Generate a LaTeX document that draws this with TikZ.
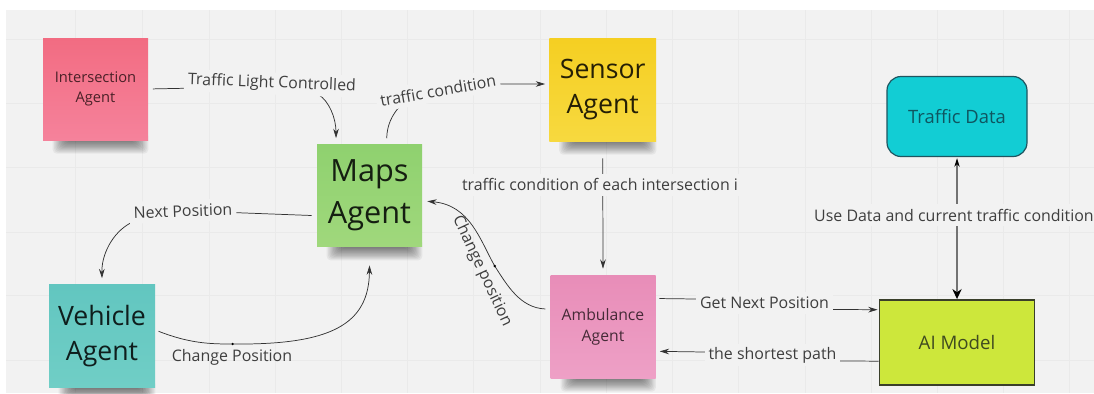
\documentclass[tikz,border=0pt]{standalone}
\usepackage{fontspec}
\setmainfont{Open Sans}
\usetikzlibrary{arrows.meta}
\definecolor{bgc}{HTML}{F2F2F2}
\definecolor{gridc}{HTML}{EAEAEA}
\definecolor{linec}{HTML}{333333}
\definecolor{labelc}{HTML}{3E3E3E}
\definecolor{intA}{HTML}{F26C82}\definecolor{intB}{HTML}{F5829B}
\definecolor{mapA}{HTML}{8FD16F}\definecolor{mapB}{HTML}{A0D87C}
\definecolor{vehA}{HTML}{62C6C0}\definecolor{vehB}{HTML}{70CEC6}
\definecolor{senA}{HTML}{F5CF22}\definecolor{senB}{HTML}{F7D93F}
\definecolor{ambA}{HTML}{E88DB8}\definecolor{ambB}{HTML}{EEA0C6}
\definecolor{datF}{HTML}{12CDD4}\definecolor{datD}{HTML}{1F5560}\definecolor{datT}{HTML}{0F5560}
\definecolor{aiF}{HTML}{CDE73B}\definecolor{aiD}{HTML}{3A3F2A}\definecolor{aiT}{HTML}{3F4A20}
\newcommand{\fs}[2]{\fontsize{#1}{#2}\selectfont}
\newcommand{\noteshadow}[3]{%
  \foreach \k in {0,...,11}{
    \fill[black,opacity=.05,rounded corners=3pt]
      ({#1+24-\k*1.3},{#3-8}) rectangle ({#2-14+\k*1.3},{#3+1+\k*1.15});
  }}
\tikzset{
  note/.style={inner sep=0pt,align=center,minimum width=78.75pt,minimum height=76.5pt},
  conn/.style={draw=linec,line width=.55pt,-{Stealth[length=7pt,width=4.2pt]}},
  lab/.style={text=labelc,fill=bgc,inner xsep=3pt,inner ysep=0pt,minimum height=16.5pt,font=\fs{11.95}{14}},
  wp/.style={circle,fill=black,inner sep=0pt,minimum size=2pt},
}
\begin{document}
\begin{tikzpicture}[x=.75pt,y=-.75pt]
\useasboundingbox (0,0) rectangle (1094,393);
\fill[bgc] (6,10) rectangle (1094,393);
\foreach \x in {75,142,209,275,341,407,473,540,606,672,738,805,871,937,1003,1069}
  \draw[gridc,line width=.6pt] (\x,10) -- (\x,393);
\foreach \y in {39,103,167,232,295,360}
  \draw[gridc,line width=.6pt] (6,\y) -- (1094,\y);
\noteshadow{43}{148}{140}
\noteshadow{317}{422}{246.7}
\noteshadow{49}{155}{388}
\noteshadow{549.5}{656}{141}
\noteshadow{551}{655.5}{378}

\node[note,top color=intA,bottom color=intB,text=black!70!intA,font=\fs{11}{15}] (inter) at (95.5,89) {Intersection\\Agent};
\node[note,top color=mapA,bottom color=mapB,text=black!85!mapA,font=\fs{23}{31.5}] (maps) at (369.5,195.5) {Maps\\Agent};
\node[note,top color=vehA,bottom color=vehB,text=black!85!vehA,minimum width=79.5pt,minimum height=77.25pt,font=\fs{20}{26}] (veh) at (102,336) {Vehicle\\Agent};
\node[note,top color=senA,bottom color=senB,text=black!85!senA,minimum width=80pt,minimum height=77.25pt,font=\fs{20}{26.5}] (sensor) at (602.7,89.5) {Sensor\\Agent};
\node[note,top color=ambA,bottom color=ambB,text=black!70!ambA,minimum height=77.25pt,font=\fs{11.8}{15.75}] (amb) at (603,326.5) {Ambulance\\Agent};
\node[draw=datD,fill=datF,line width=.9pt,rounded corners=10.5pt,inner sep=0pt,minimum width=105pt,minimum height=60pt,text=datT,font=\fs{13.8}{17}] (data) at (957,116.5) {Traffic Data};
\node[draw=aiD,fill=aiF,line width=1.2pt,inner sep=0pt,minimum width=116.5pt,minimum height=64pt,text=aiT,font=\fs{14}{17}] (ai) at (957,342.5) {AI Model};

% Intersection -> Maps
\draw[conn,shorten <=3.4pt] (inter.east) -- (183.5,88.3) -- (270,86) -- (318.6,94.7)
  .. controls (329,101) and (336,118) .. ([xshift=-25.1pt,yshift=4.6pt]maps.north);
\node[lab,rotate=-2.2] (l1) at (272,83.5) {Traffic Light Controlled};
% Maps -> Sensor
\draw[conn,shorten >=3pt] ([xshift=12.9pt,yshift=4.5pt]maps.north) .. controls (387,125) and (392,115) .. (400,106)
  -- (438,90) -- (501,84) -- (sensor.west |- 501,84);
\node[lab,rotate=10] (l2) at (438,90.5) {traffic condition};
% Sensor -> Ambulance
\draw[conn,shorten <=12.75pt,shorten >=4.5pt] (sensor.south) -- (amb.north);
\node[lab] (l3) at (600,184.5) {traffic condition of each intersection i};
% Maps -> Vehicle
\draw[conn] ([xshift=-3.8pt,yshift=-15pt]maps.west) -- (237,212.7) -- (183,211) -- (130.5,223)
  .. controls (112,233) and (101.5,255) .. ([yshift=4.5pt]veh.north);
\node[lab,rotate=2] (l4) at (183,211) {Next Position};
% Vehicle -> Maps
\draw[conn,shorten <=2.7pt] ([yshift=4.5pt]veh.east) .. controls (190,343.5) and (210,344) .. (232.6,344)
  .. controls (330,345) and (369,325) .. ([yshift=-14pt]maps.south);
\node[wp] (d1) at (232.6,344) {};
\node[text=labelc,font=\fs{11.95}{14},inner sep=0pt] (l5) at (232,357) {Change Position};
% Ambulance -> Maps
\draw[conn,shorten <=3.6pt,shorten >=3.8pt] ([yshift=13pt]amb.west) .. controls (520,308) and (507,285) .. (494.7,266)
  .. controls (480,240) and (470,205) .. ([yshift=-4pt]maps.east);
\node[wp] (d2) at (494.7,266) {};
\node[text=labelc,font=\fs{11.95}{14},inner sep=0pt,rotate=-65] (l6) at (482,271) {Change position};
% Ambulance -> AI
\draw[conn,shorten <=2.7pt,shorten >=.7pt] ([yshift=21pt]amb.east) -- (695.5,299) -- (764,303) -- (834,309.5) -- ([yshift=24.6pt]ai.west);
\node[lab] (l7) at (764.5,303) {Get Next Position};
% AI -> Ambulance
\draw[conn,shorten <=0pt,shorten >=3pt] ([yshift=-14pt]ai.west) -- (840.4,361) -- (772,355) -- (704,352) -- ([yshift=-18.6pt]amb.east);
\node[lab] (l8) at (772.5,355) {the shortest path};
% Traffic Data <-> AI
\draw[draw=black!55,line width=.9pt,
  {Stealth[length=6.5pt,width=4pt,black]}-{Stealth[length=7.5pt,width=7pt,black]},
  shorten <=.8pt] (data.south) -- (ai.north);
\node[lab] (l9) at (954,215) {Use Data and current traffic condition};
\end{tikzpicture}
\end{document}
